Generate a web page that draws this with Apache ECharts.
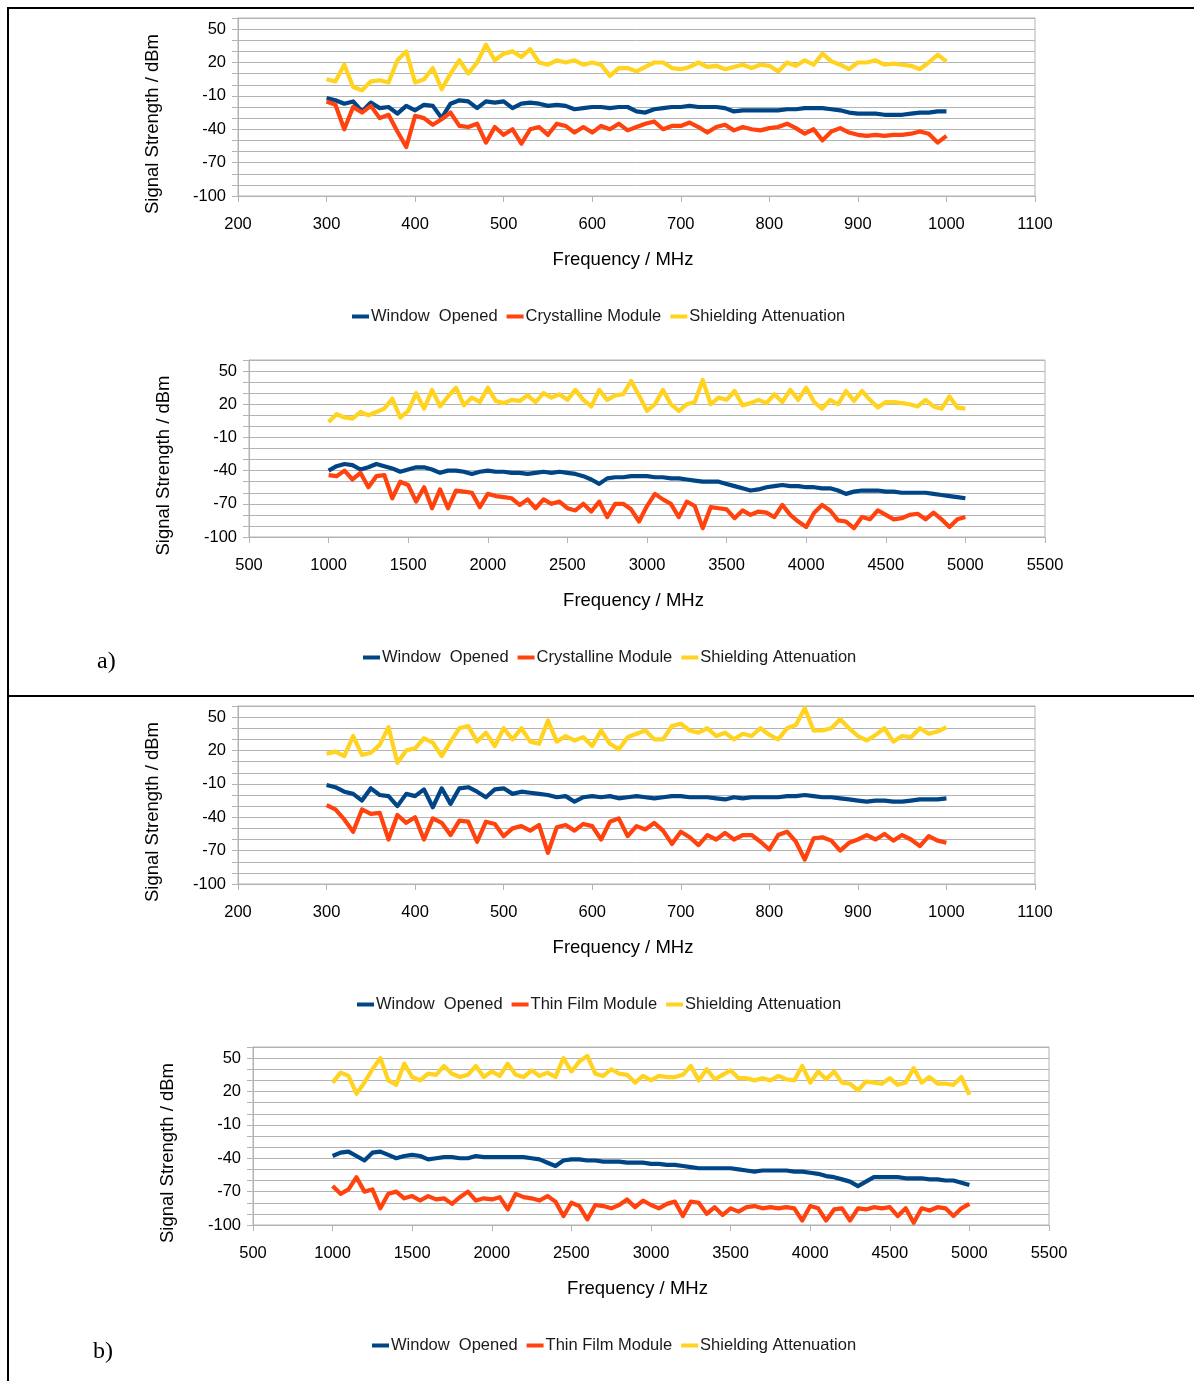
<!DOCTYPE html>
<html>
<head>
<meta charset="utf-8">
<script src="https://cdn.jsdelivr.net/npm/echarts@6/dist/echarts.min.js"></script>
<style>
html,body{margin:0;padding:0;background:#fff;}
#chart{width:1194px;height:1381px;}
</style>
</head>
<body>
<div id="chart"></div>
<script>
// ---------- Frequencies (MHz) ----------
const freqLow = [300,310,320,330,340,350,360,370,380,390,400,410,420,430,440,450,460,470,480,490,500,510,520,530,540,550,560,570,580,590,600,610,620,630,640,650,660,670,680,690,700,710,720,730,740,750,760,770,780,790,800,810,820,830,840,850,860,870,880,890,900,910,920,930,940,950,960,970,980,990,1000];
const freqHigh = [1000,1050,1100,1150,1200,1250,1300,1350,1400,1450,1500,1550,1600,1650,1700,1750,1800,1850,1900,1950,2000,2050,2100,2150,2200,2250,2300,2350,2400,2450,2500,2550,2600,2650,2700,2750,2800,2850,2900,2950,3000,3050,3100,3150,3200,3250,3300,3350,3400,3450,3500,3550,3600,3650,3700,3750,3800,3850,3900,3950,4000,4050,4100,4150,4200,4250,4300,4350,4400,4450,4500,4550,4600,4650,4700,4750,4800,4850,4900,4950,5000];

// ---------- Axis ticks ----------
const xTicksLow = [200,300,400,500,600,700,800,900,1000,1100];
const xTicksHigh = [500,1000,1500,2000,2500,3000,3500,4000,4500,5000,5500];
const yTickLabels = [-100,-70,-40,-10,20,50];

// ---------- Series names ----------
const nameWindow = 'Window  Opened';
const nameCrys = 'Crystalline Module';
const nameThin = 'Thin Film Module';
const nameShield = 'Shielding Attenuation';

// ---------- a) 300-1000 MHz, crystalline ----------
const winA1 = [-12,-14,-17,-15,-24,-16,-21,-20,-26,-19,-23,-18,-19,-30,-17,-14,-15,-21,-15,-16,-15,-21,-17,-16,-17,-19,-18,-19,-22,-21,-20,-20,-21,-20,-20,-24,-25,-22,-21,-20,-20,-19,-20,-20,-20,-21,-24,-23,-23,-23,-23,-23,-22,-22,-21,-21,-21,-22,-23,-25,-26,-26,-26,-27,-27,-27,-26,-25,-25,-24,-24];
const crysA1 = [-15,-18,-40,-20,-25,-19,-30,-27,-42,-56,-28,-30,-36,-31,-25,-37,-38,-35,-52,-38,-45,-40,-53,-40,-38,-45,-35,-37,-43,-38,-43,-37,-40,-35,-41,-38,-35,-33,-40,-37,-37,-34,-38,-43,-38,-36,-41,-38,-40,-41,-39,-38,-35,-39,-44,-40,-50,-42,-39,-43,-45,-46,-45,-46,-45,-45,-44,-42,-44,-52,-46];
const shieldA1 = [5,3,18,-2,-5,3,4,2,22,30,2,5,15,-4,10,22,10,20,36,22,28,30,25,32,20,18,22,20,22,18,20,18,8,15,15,12,16,20,20,15,14,16,20,16,17,14,16,18,15,18,17,12,20,17,22,18,28,21,18,14,20,20,22,18,19,18,17,14,20,27,21];

// ---------- a) 1000-5000 MHz, crystalline ----------
const winA2 = [-40,-36,-34,-35,-39,-37,-34,-36,-38,-41,-39,-37,-37,-39,-42,-40,-40,-41,-43,-41,-40,-41,-41,-42,-42,-43,-42,-41,-42,-41,-42,-43,-45,-48,-52,-47,-46,-46,-45,-45,-45,-46,-46,-47,-47,-48,-49,-50,-50,-50,-52,-54,-56,-58,-57,-55,-54,-53,-54,-54,-55,-55,-56,-56,-58,-61,-59,-58,-58,-58,-59,-59,-60,-60,-60,-60,-61,-62,-63,-64,-65];
const crysA2 = [-44,-45,-40,-48,-42,-55,-45,-44,-65,-50,-53,-68,-55,-74,-57,-74,-58,-59,-60,-73,-61,-63,-64,-65,-71,-66,-74,-66,-70,-68,-74,-76,-70,-77,-68,-82,-70,-70,-75,-86,-72,-61,-66,-70,-82,-68,-72,-92,-73,-74,-75,-83,-76,-80,-77,-78,-82,-71,-80,-86,-91,-78,-71,-76,-85,-86,-92,-82,-84,-76,-80,-84,-83,-80,-79,-84,-78,-84,-91,-84,-82];
const shieldA2 = [4,11,8,7,13,10,13,16,25,8,14,30,16,33,18,27,35,19,26,22,35,23,21,24,23,28,22,30,26,29,24,33,24,18,33,24,28,29,41,28,14,20,33,20,14,20,22,42,20,26,24,32,19,21,24,21,29,22,33,24,35,22,16,24,20,32,23,32,24,17,22,22,21,20,18,24,18,16,27,17,16];

// ---------- b) 300-1000 MHz, thin film ----------
const winB1 = [-11,-13,-17,-19,-25,-14,-20,-21,-30,-19,-21,-15,-31,-14,-28,-14,-13,-17,-22,-15,-14,-19,-17,-18,-19,-20,-22,-21,-26,-22,-21,-22,-21,-23,-22,-21,-22,-23,-22,-21,-21,-22,-22,-22,-23,-24,-22,-23,-22,-22,-22,-22,-21,-21,-20,-21,-22,-22,-23,-24,-25,-26,-25,-25,-26,-26,-25,-24,-24,-24,-23];
const thinB1 = [-29,-33,-42,-53,-33,-37,-36,-60,-38,-45,-40,-60,-41,-45,-56,-43,-44,-62,-44,-46,-57,-50,-48,-52,-47,-72,-49,-47,-52,-46,-48,-60,-44,-41,-57,-48,-51,-45,-52,-64,-53,-58,-65,-56,-60,-54,-60,-56,-56,-62,-69,-56,-53,-62,-78,-59,-58,-61,-70,-63,-60,-56,-60,-55,-61,-56,-60,-66,-57,-61,-63];
const shieldB1 = [17,19,15,33,16,18,25,41,9,20,22,31,27,15,28,40,42,28,36,24,40,30,40,28,26,47,28,33,29,32,24,38,26,21,32,35,38,30,30,42,44,38,36,40,33,36,30,35,33,40,34,30,40,43,58,38,38,40,48,40,33,29,34,40,28,33,32,40,35,37,41];

// ---------- b) 1000-5000 MHz, thin film ----------
const winB2 = [-38,-35,-34,-38,-42,-35,-34,-37,-40,-38,-37,-38,-41,-40,-39,-39,-40,-40,-38,-39,-39,-39,-39,-39,-39,-40,-41,-44,-47,-42,-41,-41,-42,-42,-43,-43,-43,-44,-44,-44,-45,-45,-46,-46,-47,-48,-49,-49,-49,-49,-49,-50,-51,-52,-51,-51,-51,-51,-52,-52,-53,-54,-56,-57,-59,-61,-65,-61,-57,-57,-57,-57,-58,-58,-58,-59,-59,-60,-60,-62,-64];
const thinB2 = [-65,-72,-68,-57,-70,-68,-85,-72,-70,-76,-74,-78,-74,-77,-76,-81,-75,-70,-78,-76,-77,-75,-86,-72,-75,-76,-78,-74,-79,-92,-80,-83,-95,-82,-83,-85,-82,-77,-84,-78,-82,-85,-81,-79,-92,-79,-80,-90,-84,-91,-85,-88,-84,-83,-85,-84,-85,-84,-85,-96,-83,-85,-96,-86,-85,-96,-85,-86,-84,-85,-84,-92,-85,-98,-85,-87,-84,-85,-92,-85,-81];
const shieldB2 = [28,37,34,18,28,40,50,30,26,45,33,30,36,35,43,36,33,35,43,33,38,34,45,35,33,39,34,37,33,50,38,47,52,36,34,40,36,35,28,34,30,34,33,33,35,43,30,40,31,35,39,32,32,30,32,30,34,31,30,43,28,38,31,38,28,27,21,29,28,27,32,26,28,41,28,33,27,27,26,33,17];

// ---------- Build chart ----------
const COLORS = { win: '#004586', mod: '#ff420e', shield: '#ffd320' };
const FONT = "'Liberation Sans', Arial, sans-serif";
const AXIS_GREY = '#b3b3b3';

function pairs(xs, ys) { return xs.map((x, i) => [x, ys[i]]); }

const panels = [
  { grid: { left: 238, top: 18, width: 797, height: 178 }, xt: xTicksLow, freq: freqLow, win: winA1, mod: crysA1, modName: nameCrys, shield: shieldA1, legend: { left: 352, top: 308 } },
  { grid: { left: 249, top: 360, width: 796, height: 177 }, xt: xTicksHigh, freq: freqHigh, win: winA2, mod: crysA2, modName: nameCrys, shield: shieldA2, legend: { left: 363, top: 649 } },
  { grid: { left: 238, top: 706, width: 797, height: 178 }, xt: xTicksLow, freq: freqLow, win: winB1, mod: thinB1, modName: nameThin, shield: shieldB1, legend: { left: 357, top: 996 } },
  { grid: { left: 253, top: 1047, width: 796, height: 178 }, xt: xTicksHigh, freq: freqHigh, win: winB2, mod: thinB2, modName: nameThin, shield: shieldB2, legend: { left: 372, top: 1337 } }
];

const option = {
  backgroundColor: '#ffffff',
  animation: false,
  grid: [], xAxis: [], yAxis: [], series: [], legend: [],
  graphic: [
    { type: 'line', shape: { x1: 7, y1: 8, x2: 1194, y2: 8 }, style: { stroke: '#000', lineWidth: 2 } },
    { type: 'line', shape: { x1: 8, y1: 7, x2: 8, y2: 1381 }, style: { stroke: '#000', lineWidth: 2 } },
    { type: 'line', shape: { x1: 8, y1: 696, x2: 1194, y2: 696 }, style: { stroke: '#000', lineWidth: 2 } },
    { type: 'text', left: 97, top: 650, style: { text: 'a)', font: "24px 'Liberation Serif', 'Times New Roman', serif", fill: '#000' } },
    { type: 'text', left: 93, top: 1340, style: { text: 'b)', font: "24px 'Liberation Serif', 'Times New Roman', serif", fill: '#000' } }
  ]
};

panels.forEach((p, i) => {
  option.grid.push(Object.assign({ show: true, borderColor: AXIS_GREY, borderWidth: 1, backgroundColor: 'transparent' }, p.grid));
  const step = p.xt[1] - p.xt[0];
  option.xAxis.push({
    type: 'value', gridIndex: i,
    min: p.xt[0], max: p.xt[p.xt.length - 1], interval: step,
    axisLine: { show: true, onZero: false, lineStyle: { color: AXIS_GREY, width: 1 } },
    axisTick: { show: true, length: 6, lineStyle: { color: AXIS_GREY } },
    axisLabel: { fontSize: 16.5, color: '#000', margin: 20, fontFamily: FONT, formatter: v => String(v) },
    splitLine: { show: false },
    name: 'Frequency / MHz', nameLocation: 'middle', nameGap: 54,
    nameTextStyle: { fontSize: 18.5, color: '#000', fontFamily: FONT, padding: [0, 27, 0, 0] }
  });
  option.yAxis.push({
    type: 'value', gridIndex: i,
    min: -100, max: 60, interval: 10,
    axisLine: { show: true, lineStyle: { color: AXIS_GREY, width: 1 } },
    axisTick: { show: true, length: 6, lineStyle: { color: AXIS_GREY } },
    axisLabel: {
      fontSize: 16.5, color: '#000', margin: 12, fontFamily: FONT,
      formatter: v => (yTickLabels.indexOf(v) >= 0 ? String(v) : '')
    },
    splitLine: { show: true, lineStyle: { color: AXIS_GREY, width: 1 } },
    name: 'Signal Strength / dBm', nameLocation: 'middle', nameRotate: 90, nameGap: 76,
    nameTextStyle: { fontSize: 18.5, color: '#000', fontFamily: FONT, padding: [0, 34, 0, 0] }
  });
  const mk = (name, data, color) => ({
    type: 'line', name, xAxisIndex: i, yAxisIndex: i,
    data: pairs(p.freq, data), showSymbol: false, symbol: 'none',
    lineStyle: { color, width: 4.2, join: 'round' }, itemStyle: { color },
    emphasis: { disabled: true }
  });
  option.series.push(mk(nameWindow, p.win, COLORS.win));
  option.series.push(mk(p.modName, p.mod, COLORS.mod));
  option.series.push(mk(nameShield, p.shield, COLORS.shield));
  option.legend.push({
    left: p.legend.left, top: p.legend.top, orient: 'horizontal', padding: 0,
    data: [nameWindow, p.modName, nameShield],
    icon: 'rect', itemWidth: 17, itemHeight: 4, itemGap: 9,
    selectedMode: false,
    textStyle: { fontSize: 16.5, color: '#1a1a1a', fontFamily: FONT, padding: [0, 0, 0, -3] }
  });
});

const chart = echarts.init(document.getElementById('chart'), null, { renderer: 'canvas' });
chart.setOption(option);
</script>
</body>
</html>
